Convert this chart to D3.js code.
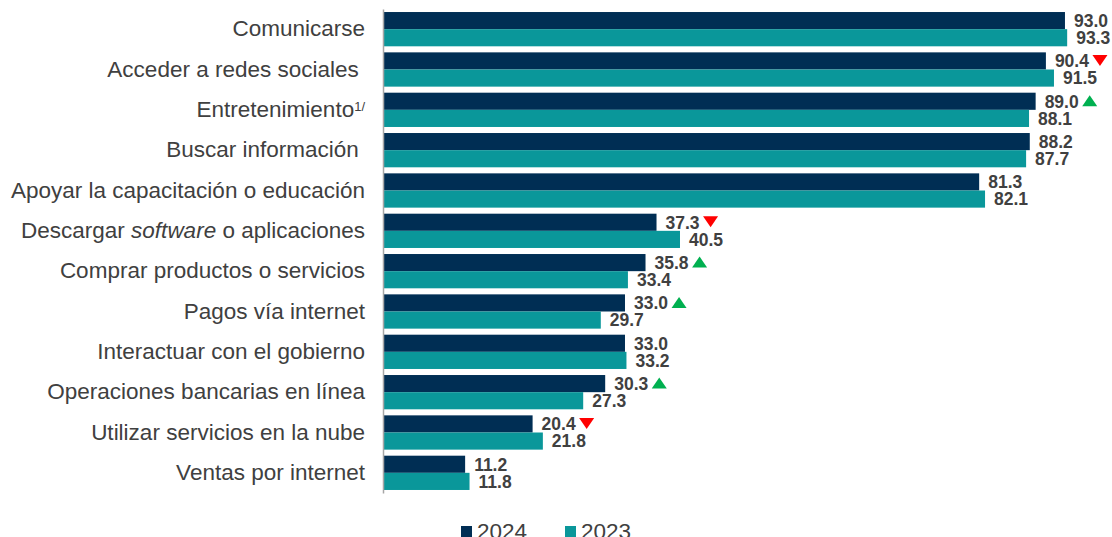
<!DOCTYPE html>
<html>
<head>
<meta charset="utf-8">
<script src="https://cdn.jsdelivr.net/npm/d3@7"></script>
<style>
  body { margin: 0; background: #fff; overflow: hidden; }
  text { font-family: Arial, "Liberation Sans", sans-serif; white-space: pre; }
</style>
</head>
<body>
<div id="chart"></div>
<script>
// data
const categories = [
  'Comunicarse', 'Acceder a redes sociales ', 'Entretenimiento', 'Buscar información ',
  'Apoyar la capacitación o educación', 'Descargar software o aplicaciones',
  'Comprar productos o servicios', 'Pagos vía internet', 'Interactuar con el gobierno',
  'Operaciones bancarias en línea', 'Utilizar servicios en la nube', 'Ventas por internet'
];
const values2024 = [93.0, 90.4, 89.0, 88.2, 81.3, 37.3, 35.8, 33.0, 33.0, 30.3, 20.4, 11.2];
const values2023 = [93.3, 91.5, 88.1, 87.7, 82.1, 40.5, 33.4, 29.7, 33.2, 27.3, 21.8, 11.8];
const changes = [null, 'down', 'up', null, null, 'down', 'up', 'up', null, 'up', 'down', null];
const seriesNames = ['2024', '2023'];

const colors = { '2024': '#002E54', '2023': '#0A979A' };
const textColor = '#404040';

const width = 1112, height = 537;
const svg = d3.select('#chart').append('svg')
  .attr('width', width)
  .attr('height', height)
  .style('display', 'block');

const x = d3.scaleLinear().domain([0, 100]).range([383, 383 + 733.3]);
const y = d3.scaleBand().domain(categories).range([9, 493]).paddingInner(0.15).paddingOuter(0.075);
const sub = d3.scaleBand().domain(seriesNames).range([0, y.bandwidth()]);

const groups = svg.selectAll('.group')
  .data(categories.map((c, i) => ({ c, i, v: { '2024': values2024[i], '2023': values2023[i] } })))
  .enter().append('g')
  .attr('transform', d => `translate(0,${y(d.c)})`);

groups.selectAll('rect')
  .data(d => seriesNames.map(s => ({ s, v: d.v[s] })))
  .enter().append('rect')
  .attr('x', x(0))
  .attr('y', d => sub(d.s))
  .attr('width', d => x(d.v) - x(0))
  .attr('height', sub.bandwidth())
  .attr('fill', d => colors[d.s]);

// value labels + change markers
groups.each(function (d) {
  const g = d3.select(this);
  seriesNames.forEach(s => {
    const t = g.append('text')
      .attr('x', x(d.v[s]) + 9)
      .attr('y', sub(s) + sub.bandwidth() / 2)
      .attr('dy', '0.36em')
      .attr('font-size', 17.5)
      .attr('font-weight', 'bold')
      .attr('fill', textColor)
      .text(d.v[s].toFixed(1));
    if (s === '2024' && changes[d.i]) {
      const w = t.node().getComputedTextLength();
      const cx = x(d.v[s]) + 9 + w + 11;
      const cy = sub(s) + sub.bandwidth() / 2;
      const pts = changes[d.i] === 'down'
        ? [[cx - 7.5, cy - 6], [cx + 7.5, cy - 6], [cx, cy + 5]]
        : [[cx - 7.5, cy + 5], [cx + 7.5, cy + 5], [cx, cy - 6]];
      g.append('polygon')
        .attr('points', pts.map(p => p.join(',')).join(' '))
        .attr('fill', changes[d.i] === 'down' ? '#FF0000' : '#00B050');
    }
  });
});

// category labels
const yAxis = svg.append('g')
  .attr('transform', `translate(${x(0)},0)`)
  .call(d3.axisLeft(y).tickSize(0).tickPadding(18));
yAxis.select('.domain').attr('stroke', '#A6A6A6').attr('stroke-width', 1.5);
yAxis.selectAll('.tick text')
  .attr('font-size', 22.5)
  .attr('fill', textColor)
  .attr('font-family', 'Arial, "Liberation Sans", sans-serif')
  .each(function (d) {
    const t = d3.select(this);
    if (d === 'Entretenimiento') {
      t.text('Entretenimiento');
      t.append('tspan').attr('font-size', 13).attr('dy', '-0.5em').text('1/');
    } else if (d.startsWith('Descargar')) {
      t.text('Descargar ');
      t.append('tspan').attr('font-style', 'italic').text('software');
      t.append('tspan').text(' o aplicaciones');
    }
  });

// legend (cut by the bottom edge, as in the original)
const legend = svg.append('g').attr('transform', 'translate(461,531)');
seriesNames.forEach((s, i) => {
  const lg = legend.append('g').attr('transform', `translate(${i * 104},0)`);
  lg.append('rect').attr('x', 0).attr('y', -5).attr('width', 11).attr('height', 11).attr('fill', colors[s]);
  lg.append('text').attr('x', 16).attr('y', 0).attr('dy', '0.36em')
    .attr('font-size', 22.5).attr('fill', textColor).text(s);
});
</script>
</body>
</html>
